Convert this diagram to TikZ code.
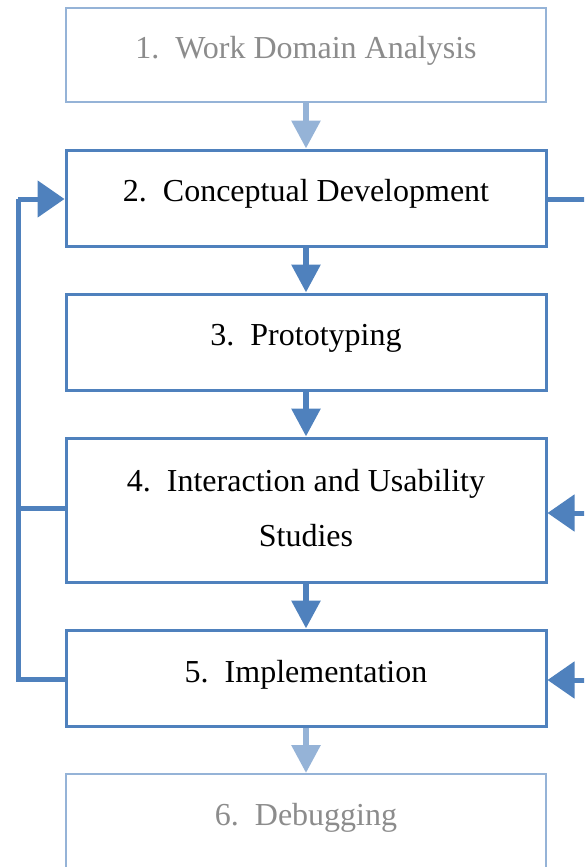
\documentclass[tikz,border=0pt]{standalone}
\usepackage{fontspec}
\setmainfont{Liberation Serif}
\usetikzlibrary{arrows.meta}
\definecolor{dblue}{HTML}{4F81BD}
\definecolor{lblue}{HTML}{95B3D7}
\definecolor{ltext}{HTML}{8C8C8C}
\begin{document}
\begin{tikzpicture}[x=1pt,y=-1pt,
  stepbox/.style={draw=dblue,line width=3pt,fill=white,minimum width=480pt,inner sep=0pt,font=\fontsize{32}{55}\selectfont,align=center,text depth=14pt},
  lightbox/.style={draw=lblue,line width=2pt,fill=white,minimum width=480pt,inner sep=0pt,font=\fontsize{32}{55}\selectfont,text=ltext,text depth=16pt},
  flow/.style={draw=dblue,line width=6pt,-{Triangle[length=28pt,width=28pt]}},
  lflow/.style={draw=lblue,line width=6pt,-{Triangle[length=28pt,width=28pt]}},
  fb/.style={draw=dblue,line width=5pt},
  fbarrow/.style={draw=dblue,line width=5pt,-{Triangle[length=27pt,width=36pt]}}]
\useasboundingbox (0,0) rectangle (584,867);
\clip (0,0) rectangle (584,867);
\node[lightbox,minimum height=94pt] (b1) at (306,55) {1.\ \ Work Domain Analysis};
\node[stepbox,minimum height=96pt,text depth=16pt] (b2) at (306,198) {2.\ \ Conceptual Development};
\node[stepbox,minimum height=96pt] (b3) at (306,342) {3.\ \ Prototyping};
\node[stepbox,minimum height=144pt,text depth=5pt] (b4) at (306,510) {4.\ \ Interaction and Usability\\Studies};
\node[stepbox,minimum height=96pt] (b5) at (306,678) {5.\ \ Implementation};
\node[lightbox,minimum height=96pt] (b6) at (306,822) {6.\ \ Debugging};
\draw[lflow] (b1.south) -- (b2.north);
\draw[flow] (b2.south) -- (b3.north);
\draw[flow] (b3.south) -- (b4.north);
\draw[flow] (b4.south) -- (b5.north);
\draw[lflow] (b5.south) -- (b6.north);
% left feedback loop
\coordinate (l2) at (18,199);
\coordinate (l4) at (18,508);
\coordinate (l5) at (18,679);
\draw[fb] (b5.west |- l5) -- (l5) -- (l2);
\draw[fb] (b4.west |- l4) -- (l4);
\draw[fbarrow] (l2) -- (b2.west |- l2);
% right side
\coordinate (r2) at (590,199);
\coordinate (r4) at (590,513);
\coordinate (r5) at (590,680);
\draw[fb] (b2.east |- r2) -- (r2);
\draw[fbarrow] (r4) -- (b4.east |- r4);
\draw[fbarrow] (r5) -- (b5.east |- r5);
\end{tikzpicture}
\end{document}
